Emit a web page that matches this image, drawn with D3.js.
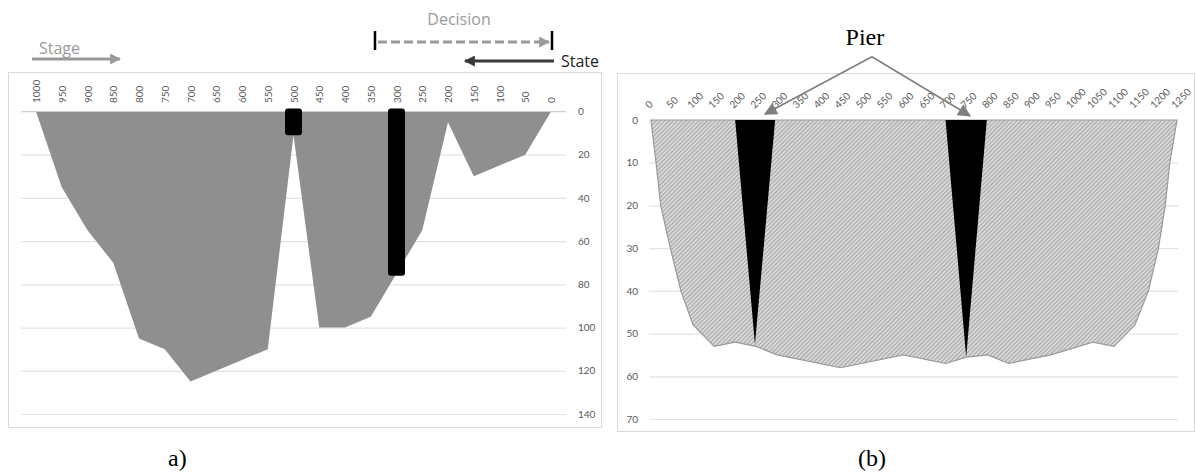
<!DOCTYPE html>
<html>
<head>
<meta charset="utf-8">
<script src="https://cdn.jsdelivr.net/npm/d3@7"></script>
<style>
    body { margin: 0; background: #fff; }
    svg { display: block; }
    .tick_text { font-family: Lato, "Open Sans", sans-serif; font-size: 10px; fill: #595959; }
    .note { font-family: "Open Sans", sans-serif; font-size: 16px; }
    .caption { font-family: "Liberation Serif", "Times New Roman", serif; font-size: 24px; fill: #000; }
</style>
</head>
<body>
<script>
// panel a) : river bed, stations read right to left
const bed_a_station = [1000, 950, 900, 850, 800, 750, 700, 650, 600, 550, 500, 450, 400, 350, 300, 250, 200, 150, 100, 50, 0];
const bed_a_depth = [0, 35, 55, 70, 105, 110, 125, 120, 115, 110, 11, 100, 100, 95, 75, 55, 5, 30, 25, 20, 0];
const pier_a_station = [500, 300];
const pier_a_depth = [11, 76];
const ticks_a_x = [1000, 950, 900, 850, 800, 750, 700, 650, 600, 550, 500, 450, 400, 350, 300, 250, 200, 150, 100, 50, 0];
const ticks_a_y = [0, 20, 40, 60, 80, 100, 120, 140];

// panel (b) : bridge cross section with two piers
const bed_b_station = [0, 12, 23, 46, 71, 100, 150, 200, 250, 300, 450, 600, 700, 750, 800, 850, 950, 1050, 1100, 1150, 1182, 1206, 1222, 1233, 1250];
const bed_b_depth = [0, 10, 20, 30, 40, 48, 53, 52, 53, 55, 58, 55, 57, 55.5, 55, 57, 55, 52, 53, 48, 40, 30, 20, 10, 0];
const pier_b_left = [200, 700];
const pier_b_right = [295, 798];
const pier_b_tip = [247, 749];
const pier_b_depth = [52.5, 55.5];
const ticks_b_x = [0, 50, 100, 150, 200, 250, 300, 350, 400, 450, 500, 550, 600, 650, 700, 750, 800, 850, 900, 950, 1000, 1050, 1100, 1150, 1200, 1250];
const ticks_b_y = [0, 10, 20, 30, 40, 50, 60, 70];

// "Pier" call-out: apex and the two arrow tips (station, depth)
const pier_note_apex = [525, -14.8];
const pier_note_tips = [[271, -1.4], [758, -1]];

const plain = d3.format("d");

const svg = d3.select("body")
    .append("svg")
    .attr("width", 1196)
    .attr("height", 475);

const defs = svg.append("defs");

const add_marker = function (id, colour, w, h) {
    defs.append("marker")
        .attr("id", id)
        .attr("viewBox", "0 0 10 10")
        .attr("refX", 9)
        .attr("refY", 5)
        .attr("markerUnits", "userSpaceOnUse")
        .attr("markerWidth", w)
        .attr("markerHeight", h)
        .attr("orient", "auto")
        .append("path")
        .attr("d", "M0,0 L10,5 L0,10 Z")
        .attr("fill", colour);
};
add_marker("head_grey", "#9a9a9a", 11, 11);
add_marker("head_dark", "#3a3a3a", 11, 11);
add_marker("head_pier", "#7f7f7f", 14, 13);

const hatch = defs.append("pattern")
    .attr("id", "hatch")
    .attr("patternUnits", "userSpaceOnUse")
    .attr("width", 3)
    .attr("height", 3)
    .attr("patternTransform", "rotate(45)");
hatch.append("rect")
    .attr("width", 3)
    .attr("height", 3)
    .attr("fill", "#d8d8d8");
hatch.append("line")
    .attr("x1", 0).attr("y1", 0)
    .attr("x2", 0).attr("y2", 3)
    .attr("stroke", "#8a8a8a")
    .attr("stroke-width", 1.3);

// ---------- panel a ----------
const x_a = d3.scaleLinear().domain([1000, 0]).range([36, 551]);
const y_a = d3.scaleLinear().domain([0, 140]).range([111.5, 414]);

const panel_a = svg.append("g");

panel_a.append("rect")
    .attr("x", 8.5).attr("y", 72.5)
    .attr("width", 593).attr("height", 355)
    .attr("fill", "#fff")
    .attr("stroke", "#d9d9d9");

const grid_a = panel_a.append("g")
    .attr("transform", "translate(566,0)")
    .call(d3.axisRight(y_a).tickValues(ticks_a_y).tickFormat(plain).tickSize(-545).tickPadding(12));
grid_a.select(".domain").remove();
grid_a.selectAll("line").attr("stroke", "#e3e3e3").attr("stroke-width", 1.2);
grid_a.selectAll("text").attr("class", "tick_text");

const cat_a = panel_a.append("g")
    .attr("transform", "translate(0,103)")
    .call(d3.axisTop(x_a).tickValues(ticks_a_x).tickFormat(plain).tickSize(0));
cat_a.select(".domain").remove();
cat_a.selectAll("text")
    .attr("class", "tick_text")
    .attr("x", 0).attr("y", 0)
    .attr("dy", "0.35em")
    .attr("transform", "rotate(-90)")
    .style("text-anchor", "start");

const bed_a = bed_a_station.map((s, i) => ({station: s, depth: bed_a_depth[i]}));
const area_a = d3.area()
    .x(d => x_a(d.station))
    .y0(y_a(0))
    .y1(d => y_a(d.depth));

panel_a.append("path")
    .datum(bed_a)
    .attr("d", area_a)
    .attr("fill", "#8f8f8f");

panel_a.append("line")
    .attr("x1", 21).attr("x2", 566)
    .attr("y1", y_a(0)).attr("y2", y_a(0))
    .attr("stroke", "#d0d0d0");

const pier_w_a = 17;
panel_a.selectAll("rect.pier")
    .data(pier_a_station)
    .enter()
    .append("rect")
    .attr("class", "pier")
    .attr("x", d => x_a(d) - pier_w_a / 2)
    .attr("y", y_a(0) - 3)
    .attr("width", pier_w_a)
    .attr("height", (d, i) => y_a(pier_a_depth[i]) - y_a(0) + 3)
    .attr("rx", 3)
    .attr("fill", "#000");

// annotations above panel a
panel_a.append("text")
    .attr("class", "note")
    .attr("x", 39).attr("y", 54)
    .attr("fill", "#9a9a9a")
    .text("Stage");
panel_a.append("line")
    .attr("x1", 32).attr("x2", 120)
    .attr("y1", 59).attr("y2", 59)
    .attr("stroke", "#9a9a9a")
    .attr("stroke-width", 3)
    .attr("marker-end", "url(#head_grey)");

panel_a.append("text")
    .attr("class", "note")
    .attr("x", 459).attr("y", 25)
    .attr("fill", "#9a9a9a")
    .style("text-anchor", "middle")
    .text("Decision");
panel_a.append("line")
    .attr("x1", 378).attr("x2", 549)
    .attr("y1", 42).attr("y2", 42)
    .attr("stroke", "#9a9a9a")
    .attr("stroke-width", 3)
    .attr("stroke-dasharray", "9,4")
    .attr("marker-end", "url(#head_grey)");
[375, 552].forEach(bx => {
    panel_a.append("line")
        .attr("x1", bx).attr("x2", bx)
        .attr("y1", 31).attr("y2", 50)
        .attr("stroke", "#000")
        .attr("stroke-width", 2.5);
});

panel_a.append("line")
    .attr("x1", 554).attr("x2", 465)
    .attr("y1", 61).attr("y2", 61)
    .attr("stroke", "#3a3a3a")
    .attr("stroke-width", 3)
    .attr("marker-end", "url(#head_dark)");
panel_a.append("text")
    .attr("class", "note")
    .attr("x", 561).attr("y", 67)
    .attr("fill", "#222")
    .text("State");

panel_a.append("text")
    .attr("class", "caption")
    .attr("x", 168).attr("y", 466)
    .text("a)");

// ---------- panel b ----------
const x_b = d3.scaleLinear().domain([0, 1250]).range([651, 1177]);
const y_b = d3.scaleLinear().domain([0, 70]).range([120, 419]);

const panel_b = svg.append("g");

panel_b.append("rect")
    .attr("x", 617.5).attr("y", 73.5)
    .attr("width", 577).attr("height", 358)
    .attr("fill", "#fff")
    .attr("stroke", "#d9d9d9");

const grid_b = panel_b.append("g")
    .attr("transform", "translate(649,0)")
    .call(d3.axisLeft(y_b).tickValues(ticks_b_y).tickFormat(plain).tickSize(-529).tickPadding(11));
grid_b.select(".domain").remove();
grid_b.selectAll("line").attr("stroke", "#e3e3e3").attr("stroke-width", 1.2);
grid_b.selectAll("text").attr("class", "tick_text");

const cat_b = panel_b.append("g")
    .attr("transform", "translate(0,109)")
    .call(d3.axisTop(x_b).tickValues(ticks_b_x).tickFormat(plain).tickSize(0));
cat_b.select(".domain").remove();
cat_b.selectAll("text")
    .attr("class", "tick_text")
    .attr("x", 0).attr("y", 0)
    .attr("dy", "0")
    .attr("transform", "translate(-2,0) rotate(-45)")
    .style("text-anchor", "start");

const bed_b = bed_b_station.map((s, i) => ({station: s, depth: bed_b_depth[i]}));
const area_b = d3.area()
    .x(d => x_b(d.station))
    .y0(y_b(0))
    .y1(d => y_b(d.depth));

panel_b.append("path")
    .datum(bed_b)
    .attr("d", area_b)
    .attr("fill", "url(#hatch)")
    .attr("stroke", "#999")
    .attr("stroke-width", 1.2);

panel_b.selectAll("path.pier")
    .data(pier_b_tip)
    .enter()
    .append("path")
    .attr("class", "pier")
    .attr("d", (d, i) => "M" + x_b(pier_b_left[i]) + "," + y_b(0)
        + "L" + x_b(pier_b_right[i]) + "," + y_b(0)
        + "L" + x_b(d) + "," + y_b(pier_b_depth[i]) + "Z")
    .attr("fill", "#000");

pier_note_tips.forEach(tip => {
    panel_b.append("line")
        .attr("x1", x_b(pier_note_apex[0])).attr("y1", y_b(pier_note_apex[1]))
        .attr("x2", x_b(tip[0])).attr("y2", y_b(tip[1]))
        .attr("stroke", "#7f7f7f")
        .attr("stroke-width", 1.6)
        .attr("marker-end", "url(#head_pier)");
});

panel_b.append("text")
    .attr("class", "caption")
    .attr("x", x_b(pier_note_apex[0]) - 7).attr("y", 45)
    .style("text-anchor", "middle")
    .text("Pier");

panel_b.append("text")
    .attr("class", "caption")
    .attr("x", 858).attr("y", 466)
    .text("(b)");
</script>
</body>
</html>
